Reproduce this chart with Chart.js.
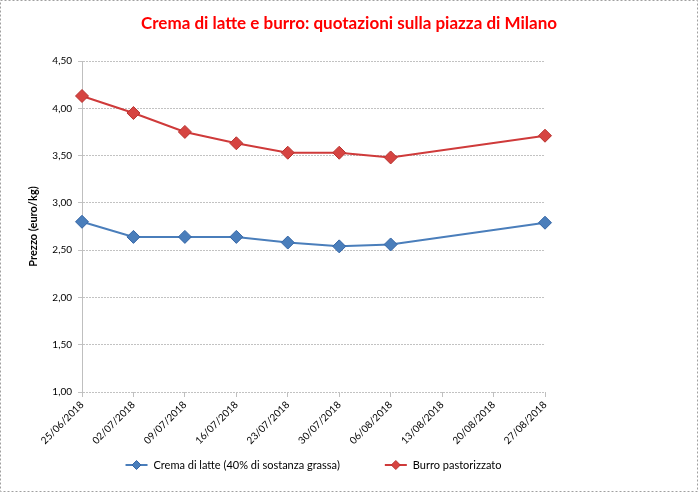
<!DOCTYPE html>
<html>
<head>
<meta charset="utf-8">
<script src="https://cdn.jsdelivr.net/npm/chart.js@4/dist/chart.umd.min.js"></script>
<style>
html,body{margin:0;padding:0;background:#fff;}
#wrap{width:698px;height:492px;position:relative;}
</style>
</head>
<body>
<div id="wrap"><canvas id="c" width="698" height="492"></canvas></div>
<script>
const categories = ['25/06/2018','02/07/2018','09/07/2018','16/07/2018','23/07/2018','30/07/2018','06/08/2018','13/08/2018','20/08/2018','27/08/2018'];
const cremaValues = [2.80, 2.64, 2.64, 2.64, 2.58, 2.54, 2.56, null, null, 2.79];
const burroValues = [4.13, 3.95, 3.75, 3.63, 3.53, 3.53, 3.48, null, null, 3.71];
const seriesNames = ['Crema di latte (40% di sostanza grassa)', 'Burro pastorizzato'];
const chartTitle = 'Crema di latte e burro: quotazioni sulla piazza di Milano';
const yTitle = 'Prezzo (euro/kg)';

const blueLine = '#4a7ebb', blueFill = '#4a7ebb', blueBorder = '#3566a6';
const redLine = '#cf3a3a', redFill = '#d64441', redBorder = '#b83330';

const FONT = 'Lato, "Liberation Sans", sans-serif';

const decorPlugin = {
  id: 'decor',
  afterDraw(chart){
    const ctx = chart.ctx;
    ctx.save();
    // outer dashed border
    ctx.strokeStyle = '#a0a0a0';
    ctx.setLineDash([2,2]);
    ctx.lineWidth = 1;
    ctx.strokeRect(0.5,0.5,chart.width-1,chart.height-1);
    ctx.setLineDash([]);
    // title
    ctx.fillStyle = '#ff0000';
    ctx.font = 'bold 17px ' + FONT;
    ctx.textAlign = 'center';
    ctx.textBaseline = 'middle';
    ctx.fillText(chartTitle, chart.width/2, 24);
    // legend
    ctx.font = '11px ' + FONT;
    ctx.textAlign = 'left';
    const ds = chart.data.datasets;
    const lineW = 22, gapT = 6, gapItems = 45;
    const widths = ds.map(d => lineW + gapT + ctx.measureText(d.label).width);
    const total = widths.reduce((a,b)=>a+b,0) + gapItems*(ds.length-1);
    const ca = chart.chartArea;
    let x = (ca.left + ca.right)/2 - total/2;
    const y = 465;
    ds.forEach((d,i) => {
      ctx.strokeStyle = d.borderColor; ctx.lineWidth = 2;
      ctx.beginPath(); ctx.moveTo(x, y); ctx.lineTo(x+lineW, y); ctx.stroke();
      const cx = x + lineW/2;
      ctx.fillStyle = d.pointBackgroundColor; ctx.strokeStyle = d.pointBorderColor; ctx.lineWidth = 1;
      ctx.beginPath(); ctx.moveTo(cx, y-4.5); ctx.lineTo(cx+4.5, y); ctx.lineTo(cx, y+4.5); ctx.lineTo(cx-4.5, y); ctx.closePath();
      ctx.fill(); ctx.stroke();
      ctx.fillStyle = '#000';
      ctx.fillText(d.label, x + lineW + gapT, y);
      x += widths[i] + gapItems;
    });
    ctx.restore();
  }
};

new Chart(document.getElementById('c'), {
  type: 'line',
  data: {
    labels: categories,
    datasets: [
      {label: seriesNames[0], data: cremaValues, borderColor: blueLine, backgroundColor: blueFill,
       pointBackgroundColor: blueFill, pointBorderColor: blueBorder, pointStyle: 'rectRot', pointRadius: 6.5,
       pointBorderWidth: 1, borderWidth: 2, spanGaps: true, tension: 0},
      {label: seriesNames[1], data: burroValues, borderColor: redLine, backgroundColor: redFill,
       pointBackgroundColor: redFill, pointBorderColor: redBorder, pointStyle: 'rectRot', pointRadius: 6.5,
       pointBorderWidth: 1, borderWidth: 2, spanGaps: true, tension: 0}
    ]
  },
  options: {
    responsive: false,
    animation: false,
    devicePixelRatio: 1,
    layout: {padding: {left: 27, right: 153, top: 61, bottom: 42}},
    plugins: {
      title: {display: false},
      legend: {display: false},
      tooltip: {enabled: false}
    },
    scales: {
      x: {
        offset: false,
        grid: {display: true, drawOnChartArea: false, drawTicks: true, tickLength: 5, color: '#bfbfbf'},
        border: {display: false},
        ticks: {color: '#000', font: {family: FONT, size: 10}, maxRotation: 45, minRotation: 45, autoSkip: false, padding: 2},
        afterFit(s){ s.height = 58; }
      },
      y: {
        min: 1, max: 4.5,
        ticks: {stepSize: 0.5, color: '#000', font: {family: FONT, size: 10}, padding: 6,
          callback: v => v.toFixed(2).replace('.', ',')},
        grid: {color: '#c2c2c2', tickLength: 4, drawTicks: true},
        border: {display: true, color: '#bfbfbf', dash: [2,1]},
        title: {display: true, text: yTitle, color: '#000', font: {family: FONT, size: 11, weight: 'bold'}, padding: {top: 0, bottom: 0}},
        afterFit(s){ s.width = 55; }
      }
    }
  },
  plugins: [decorPlugin]
});
</script>
</body>
</html>
